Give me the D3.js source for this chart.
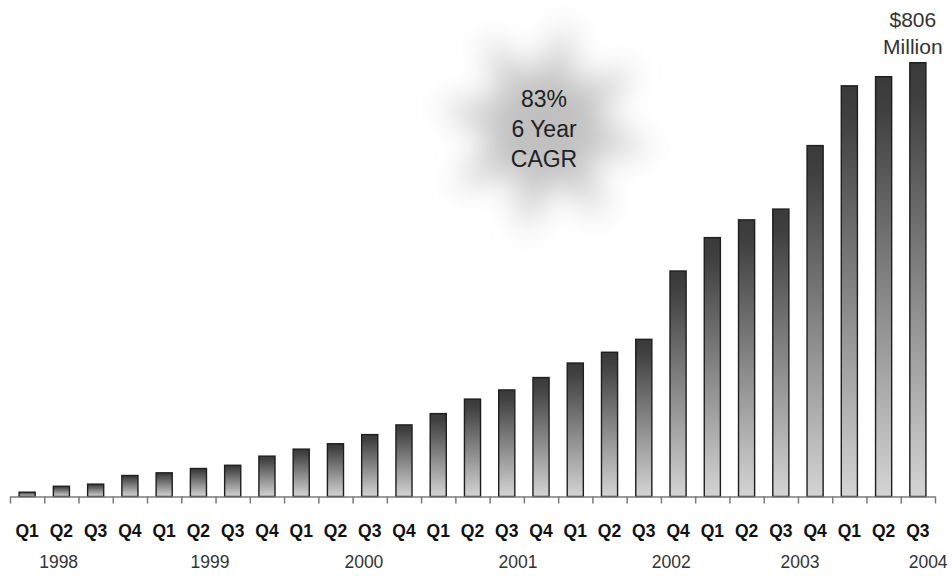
<!DOCTYPE html>
<html>
<head>
<meta charset="utf-8">
<script src="https://cdn.jsdelivr.net/npm/d3@7"></script>
<style>
  body { margin: 0; background: #fff; }
  svg { display: block; font-family: "Liberation Sans", Arial, sans-serif; }
</style>
</head>
<body>
<svg id="chart"></svg>
<script>
// quarterly revenue, $ millions
const quarters = [
  "Q1", "Q2", "Q3", "Q4",
  "Q1", "Q2", "Q3", "Q4",
  "Q1", "Q2", "Q3", "Q4",
  "Q1", "Q2", "Q3", "Q4",
  "Q1", "Q2", "Q3", "Q4",
  "Q1", "Q2", "Q3", "Q4",
  "Q1", "Q2", "Q3"
];
const revenue = [
  8, 19, 23, 39,
  44, 52, 58, 75,
  88, 98, 115, 133,
  154, 181, 198, 221,
  248, 268, 292, 419,
  481, 514, 534, 652,
  763, 780, 806
];
const years = ["1998", "1999", "2000", "2001", "2002", "2003", "2004"];
const cagrLines = ["83%", "6 Year", "CAGR"];
const lastLabel = ["$806", "Million"];

const width = 952;
const height = 576;
const baseline = 496.5;
// where each year label sits, in quarter units along the axis
const yearAt = [1.42, 5.84, 10.33, 14.83, 19.3, 23.06, 26.8];

const svg = d3.select("#chart").attr("width", width).attr("height", height);

const idx = d3.range(revenue.length);

const xBand = d3
  .scaleBand()
  .domain(idx)
  .range([10, 935])
  .paddingInner(0.53)
  .paddingOuter(0.265);

const xEdge = d3
  .scaleLinear()
  .domain([0, revenue.length])
  .range([10, 935]);

const yScale = d3
  .scaleLinear()
  .domain([0, d3.max(revenue)])
  .range([baseline, 62.7]);

const defs = svg.append("defs");

const grad = defs
  .append("linearGradient")
  .attr("id", "barGrad")
  .attr("x1", 0).attr("y1", 0)
  .attr("x2", 0).attr("y2", 1);
grad.append("stop").attr("offset", "0%").attr("stop-color", "#3a3a3a");
grad.append("stop").attr("offset", "8%").attr("stop-color", "#404040");
grad.append("stop").attr("offset", "100%").attr("stop-color", "#d4d4d4");

const blur = defs.append("filter")
  .attr("id", "soft")
  .attr("x", "-60%").attr("y", "-60%")
  .attr("width", "220%").attr("height", "220%");
blur.append("feGaussianBlur").attr("stdDeviation", 16);

/* ***** starburst ***** */
const cx = 545, cy = 128;
const starPts = d3.range(16).map(i => {
  const a = (i * Math.PI) / 8 - Math.PI / 2 + 0.2;
  const r = i % 2 === 0 ? 110 : 48;
  return [cx + r * Math.cos(a), cy + r * Math.sin(a)];
});
svg.append("polygon")
  .attr("points", starPts.map(p => p.join(",")).join(" "))
  .attr("fill", "#8c8c8c")
  .attr("opacity", 0.55)
  .attr("filter", "url(#soft)");

svg.append("g")
  .selectAll("text")
  .data(cagrLines)
  .join("text")
  .attr("x", 544)
  .attr("y", (d, i) => 106.5 + i * 30.3)
  .attr("text-anchor", "middle")
  .attr("font-size", 23)
  .attr("fill", "#222")
  .text(d => d);

/* ***** bars ***** */
svg.append("g")
  .selectAll("rect")
  .data(revenue)
  .join("rect")
  .attr("x", (d, i) => xBand(i))
  .attr("y", d => yScale(d))
  .attr("width", xBand.bandwidth())
  .attr("height", d => yScale(0) - yScale(d))
  .attr("fill", "url(#barGrad)")
  .attr("stroke", "#1e1e1e")
  .attr("stroke-width", 1.4);

/* ***** x axis ***** */
const edgeAxis = d3.axisBottom(xEdge)
  .tickValues(d3.range(revenue.length + 1))
  .tickSize(7)
  .tickSizeOuter(0)
  .tickFormat("");

svg.append("g")
  .attr("transform", `translate(0, ${baseline})`)
  .call(edgeAxis)
  .call(g => g.selectAll("path, line").attr("stroke", "#7a7a7a").attr("stroke-width", 1.5));

const labelAxis = d3.axisBottom(xBand)
  .tickSize(0)
  .tickFormat(i => quarters[i]);

svg.append("g")
  .attr("transform", `translate(0, ${baseline})`)
  .call(labelAxis)
  .call(g => g.select(".domain").remove())
  .call(g => g.selectAll("text")
    .attr("y", 537 - baseline)
    .attr("dy", 0)
    .attr("font-family", "Liberation Sans, Arial, sans-serif")
    .attr("font-size", 17.5)
    .attr("font-weight", "bold")
    .attr("fill", "#111"));

svg.append("g")
  .selectAll("text")
  .data(years)
  .join("text")
  .attr("x", (d, i) => xEdge(yearAt[i]))
  .attr("y", 568)
  .attr("text-anchor", "middle")
  .attr("font-size", 17.5)
  .attr("fill", "#333")
  .text(d => d);

/* ***** last value callout ***** */
const last = revenue.length - 1;
svg.append("g")
  .selectAll("text")
  .data(lastLabel)
  .join("text")
  .attr("x", xBand(last) + xBand.bandwidth() / 2 - 5)
  .attr("y", (d, i) => yScale(revenue[last]) - 36 + i * 27)
  .attr("text-anchor", "middle")
  .attr("font-size", 21)
  .attr("fill", "#333")
  .text(d => d);
</script>
</body>
</html>
